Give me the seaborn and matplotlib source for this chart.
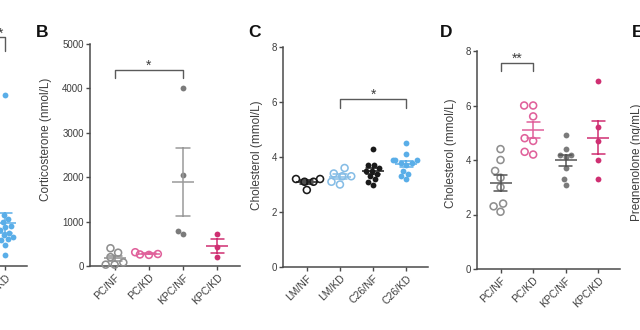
import numpy as np
import pandas as pd
import matplotlib
matplotlib.use("Agg")
import matplotlib.pyplot as plt
import seaborn as sns

sns.set_theme(style="ticks")
plt.rcParams["font.family"] = ["Liberation Sans", "DejaVu Sans"]

# ---- data -------------------------------------------------------------
# Panel A: only the last group lies within the figure
a_groups = ["LM/NF", "LM/KD", "C26/NF", "C26/KD"]
a_c26_kd = [3850, 1150, 1050, 1000, 900, 880, 800, 750, 700, 650, 600, 580, 480, 250]

# Panel B: corticosterone (nmol/L)
b_groups = ["PC/NF", "PC/KD", "KPC/NF", "KPC/KD"]
b_pc_nf = [400, 300, 200, 80, 30, 30]
b_pc_kd = [250, 310, 270, 260]
b_kpc_nf = [4000, 2050, 730, 790]
b_kpc_kd = [720, 430, 200]
b_ticks = [0, 1000, 2000, 3000, 4000, 5000]

# Panel C: cholesterol (mmol/L), C26 model
c_groups = ["LM/NF", "LM/KD", "C26/NF", "C26/KD"]
c_lm_nf = [3.2, 3.2, 3.1, 3.1, 2.8]
c_lm_kd = [3.6, 3.4, 3.3, 3.3, 3.1, 3.0]
c_c26_nf = [4.3, 3.7, 3.7, 3.6, 3.5, 3.5, 3.4, 3.3, 3.2, 3.1, 3.0]
c_c26_kd = [4.5, 4.1, 3.9, 3.9, 3.9, 3.8, 3.8, 3.7, 3.5, 3.4, 3.3, 3.2]

# Panel D: cholesterol (mmol/L), KPC model
d_groups = ["PC/NF", "PC/KD", "KPC/NF", "KPC/KD"]
d_pc_nf = [4.4, 4.0, 3.6, 3.35, 3.0, 2.4, 2.3, 2.1]
d_pc_kd = [6.0, 6.0, 5.6, 4.8, 4.7, 4.3, 4.2]
d_kpc_nf = [4.9, 4.4, 4.2, 4.2, 4.1, 3.7, 3.3, 3.1]
d_kpc_kd = [6.9, 5.2, 4.7, 4.0, 3.3]
chol_ticks = [0, 2, 4, 6, 8]

# ---- styles -----------------------------------------------------------
GRAY_O = "#8f8f8f"
GRAY_F = "#7b7b7b"
PINK_O = "#e0619b"
PINK_F = "#cf2f72"
BLACK = "#1a1a1a"
LBLUE = "#86bde6"
BLUE = "#5aaee8"
AXC = "#4a4a4a"
TXT = "#3d3d3d"

W, H = 640, 330
fig = plt.figure(figsize=(W / 100, H / 100), dpi=100)


def box(x0, x1, ytop, ybot):
    return [x0 / W, 1 - ybot / H, (x1 - x0) / W, (ybot - ytop) / H]


def group(ax, order, name, values, color, filled, bar_color=None):
    df = pd.DataFrame({"g": [name] * len(values), "v": values})
    n_before = len(ax.collections)
    if filled:
        sns.swarmplot(data=df, x="g", y="v", order=order, color=color,
                      size=4.2, linewidth=0, ax=ax, zorder=3)
    else:
        sns.swarmplot(data=df, x="g", y="v", order=order, color=color,
                      size=5.0, facecolor="none", edgecolor=color,
                      linewidth=1.15, ax=ax, zorder=3)
    # keep only the scatter holding this group's points; let it spill
    # over the axes edge like the rest of the marks
    for coll in ax.collections[n_before:]:
        if len(coll.get_offsets()) == len(values):
            coll.set_clip_on(False)
        else:
            coll.set_visible(False)
    sns.pointplot(data=df, x="g", y="v", order=order, errorbar="se",
                  color=bar_color or color, marker="_", markersize=16,
                  markeredgewidth=1.1, linestyle="none", capsize=0.4,
                  err_kws={"linewidth": 1.1}, ax=ax, zorder=4)


def style_axis(ax, order, ticks, ylim, xlim):
    ax.set_xlim(*xlim)
    ax.set_ylim(*ylim)
    ax.set_yticks(ticks)
    ax.set_xticks(range(len(order)))
    ax.set_xticklabels(order)
    ax.set_xlabel("")
    ax.set_ylabel("")
    for s in ["top", "right"]:
        ax.spines[s].set_visible(False)
    for s in ["left", "bottom"]:
        ax.spines[s].set_color(AXC)
        ax.spines[s].set_linewidth(1.1)
    ax.tick_params(axis="both", colors=AXC, labelcolor=TXT, length=3,
                   width=1, labelsize=7, pad=1.5)
    for lab in ax.get_xticklabels():
        lab.set_rotation(45)
        lab.set_ha("right")
        lab.set_rotation_mode("anchor")
        lab.set_fontsize(7.5)


def bracket(ax, x1, x2, y_top, drop, label):
    ax.plot([x1, x1, x2, x2], [y_top - drop, y_top, y_top, y_top - drop],
            color="#5a5a5a", lw=1, clip_on=False)
    ax.annotate(label, ((x1 + x2) / 2, y_top), xytext=(0, 0),
                textcoords="offset points", ha="center", va="baseline",
                fontsize=10, color=TXT, annotation_clip=False)


def ylabel(ax, text, x, y):
    ax.set_ylabel(text, fontsize=8.5, color=TXT)
    ax.yaxis.set_label_coords(x, y)


XLIM = (-0.72, 3.66)

# ---- panel A (partly outside the figure) -------------------------------
axA = fig.add_axes(box(-117, 27, 44, 266))
group(axA, a_groups, "C26/KD", a_c26_kd, BLUE, True)
style_axis(axA, a_groups, b_ticks, (0, 5000), XLIM)
axA.tick_params(axis="y", labelleft=False)
bracket(axA, 2.72, 3, 5150, 300, "*")

# ---- panel B -----------------------------------------------------------
axB = fig.add_axes(box(90, 240, 44, 266))
group(axB, b_groups, "PC/NF", b_pc_nf, GRAY_O, False)
group(axB, b_groups, "PC/KD", b_pc_kd, PINK_O, False)
group(axB, b_groups, "KPC/NF", b_kpc_nf, GRAY_F, True, bar_color="#9a9a9a")
group(axB, b_groups, "KPC/KD", b_kpc_kd, PINK_F, True)
style_axis(axB, b_groups, b_ticks, (0, 5000), XLIM)
ylabel(axB, "Corticosterone (nmol/L)", -0.25, 0.57)
bracket(axB, 0, 2, 4420, 190, "*")

# ---- panel C -----------------------------------------------------------
axC = fig.add_axes(box(283, 428, 47, 267))
group(axC, c_groups, "LM/NF", c_lm_nf, BLACK, False)
group(axC, c_groups, "LM/KD", c_lm_kd, LBLUE, False)
group(axC, c_groups, "C26/NF", c_c26_nf, BLACK, True)
group(axC, c_groups, "C26/KD", c_c26_kd, BLUE, True)
style_axis(axC, c_groups, chol_ticks, (0, 8), XLIM)
ylabel(axC, "Cholesterol (mmol/L)", -0.14, 0.51)
bracket(axC, 1, 3, 6.1, 0.3, "*")

# ---- panel D -----------------------------------------------------------
axD = fig.add_axes(box(477, 620, 51, 269))
group(axD, d_groups, "PC/NF", d_pc_nf, GRAY_O, False, bar_color="#555555")
group(axD, d_groups, "PC/KD", d_pc_kd, PINK_O, False)
group(axD, d_groups, "KPC/NF", d_kpc_nf, GRAY_F, True, bar_color="#555555")
group(axD, d_groups, "KPC/KD", d_kpc_kd, PINK_F, True)
style_axis(axD, d_groups, chol_ticks, (0, 8), XLIM)
ylabel(axD, "Cholesterol (mmol/L)", -0.14, 0.53)
bracket(axD, 0, 1, 7.56, 0.28, "**")

# ---- panel letters and the neighbouring panel's axis title -------------
for letter, x in [("B", 36), ("C", 248), ("D", 440), ("E", 632)]:
    fig.text(x / W, 1 - 37 / H, letter, fontsize=12.5, fontweight="bold",
             color="#111111", ha="left", va="baseline")
fig.text(643 / W, 1 - 162 / H, "Pregnenolone (ng/mL)", rotation=90,
         fontsize=8.5, color=TXT, ha="right", va="center")

fig.savefig("out.png", dpi=100)
